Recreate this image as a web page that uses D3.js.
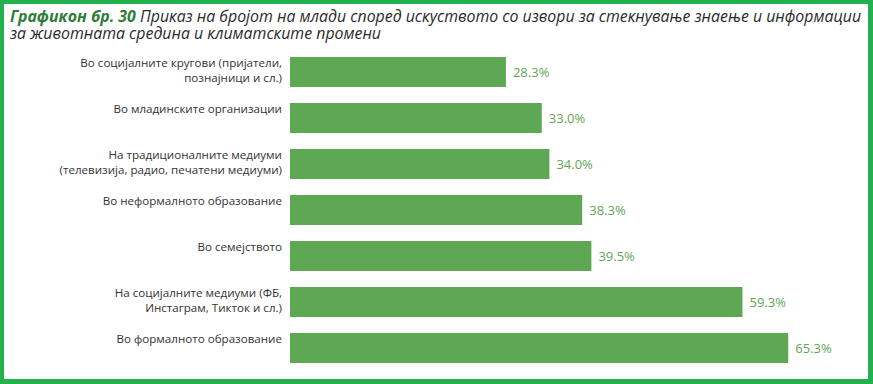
<!DOCTYPE html>
<html><head><meta charset="utf-8">
<script src="https://cdn.jsdelivr.net/npm/d3@7"></script>
<style>body{margin:0;background:#fff}svg{display:block}</style>
</head><body>
<svg id="c" width="873" height="384"></svg>
<script>
const categories = [
  ["Во социјалните кругови (пријатели,", "познајници и сл.)"],
  ["Во младинските организации"],
  ["На традиционалните медиуми", "(телевизија, радио, печатени медиуми)"],
  ["Во неформалното образование"],
  ["Во семејството"],
  ["На социјалните медиуми (ФБ,", "Инстаграм, Тикток и сл.)"],
  ["Во формалното образование"]
];
const values = [28.3, 33.0, 34.0, 38.3, 39.5, 59.3, 65.3];
const titleBold = "Графикон бр. 30";
const titleRest1 = " Приказ на бројот на млади според искуството со извори за стекнување знаење и информации";
const titleLine2 = "за животната средина и климатските промени";

const svg = d3.select("#c");
const W = 873, H = 384;
// border
svg.append("path")
  .attr("d", `M0,0H${W}V${H}H0Z M4,4V379H868V4Z`)
  .attr("fill", "#22b14c").attr("fill-rule", "evenodd");

const x = d3.scaleLinear().domain([0, 100]).range([290, 1053]);
const y = d3.scaleBand().domain(d3.range(values.length)).range([57, 363]).paddingInner(16 / 46).paddingOuter(0);

// title (one text element, two lines)
const t1 = svg.append("text").attr("y", 21.5)
  .style("font-family", "'Open Sans'").style("font-style", "italic").style("font-size", "16px");
const l1a = t1.append("tspan").attr("x", 10).text(titleBold).attr("fill", "#2f7d3b").style("font-weight", "700");
const l1b = t1.append("tspan").text(titleRest1).attr("fill", "#2b2b2b");
// fit line 1 to width
const len = l1a.node().getComputedTextLength() + l1b.node().getComputedTextLength();
const fs = 16 * 852 / len;
t1.style("font-size", fs + "px");
t1.append("tspan").attr("x", 10).attr("y", 38.5).attr("fill", "#2b2b2b").text(titleLine2);

const g = svg.append("g");
g.selectAll("rect.bar").data(values).join("rect")
  .attr("class", "bar")
  .attr("x", x(0)).attr("y", (d, i) => y(i))
  .attr("width", d => x(d) - x(0)).attr("height", y.bandwidth())
  .attr("fill", "#5ea754");

g.selectAll("text.val").data(values).join("text")
  .attr("class", "val")
  .attr("x", d => x(d) + 7).attr("y", (d, i) => y(i) + y.bandwidth() / 2)
  .attr("dy", "0.35em")
  .style("font-family", "'Open Sans'").style("font-size", "13px")
  .attr("fill", "#5fa655")
  .text(d => d.toFixed(1) + "%");

const labels = g.selectAll("text.lab").data(categories).join("text")
  .attr("class", "lab")
  .attr("text-anchor", "end")
  .style("font-family", "'Open Sans'").style("font-size", "11.6px")
  .attr("fill", "#333");
labels.each(function(lines, i) {
  const t = d3.select(this);
  lines.forEach((ln, k) => {
    t.append("tspan").attr("x", 282).attr("y", y(i) + 10 + k * 14.5).text(ln);
  });
});
</script>
</body></html>
